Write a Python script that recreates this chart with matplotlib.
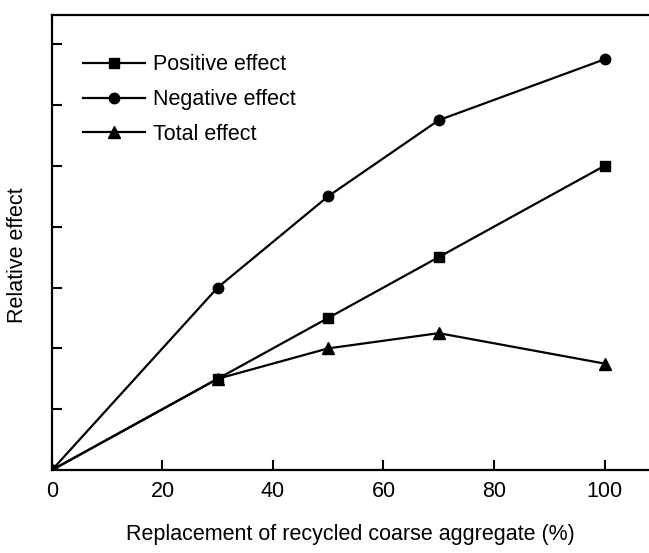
import matplotlib.pyplot as plt

plt.rcParams['font.family'] = ['Liberation Sans', 'DejaVu Sans']

# Replacement ratio of recycled coarse aggregate (%)
replacement = [0, 30, 50, 70, 100]

# Relative effect (arbitrary units)
positive_effect = [0, 1.5, 2.5, 3.5, 5.0]
negative_effect = [0, 3.0, 4.5, 5.75, 6.75]
total_effect = [0, 1.5, 2.0, 2.25, 1.75]

FS = 15.5

fig = plt.figure(figsize=(6.49, 5.53), dpi=100)
ax = fig.add_axes([0.080, 0.150, 0.920, 0.823])

style = dict(color='black', linewidth=1.6, markersize=7.5)
ax.plot(replacement, positive_effect, marker='s', label='Positive effect', **style)
ax.plot(replacement, negative_effect, marker='o', label='Negative effect', **style)
ax.plot(replacement, total_effect, marker='^', label='Total effect', markersize=8.5,
        color='black', linewidth=1.6)

ax.set_xlim(0, 108.05)
ax.set_ylim(0, 7.48)
ax.set_xticks([0, 20, 40, 60, 80, 100])
ax.set_yticks([1, 2, 3, 4, 5, 6, 7])
ax.set_yticklabels([])
ax.tick_params(axis='both', direction='in', length=7.5, width=1.5, labelsize=FS)
ax.tick_params(axis='x', pad=8)

for side in ['left', 'bottom', 'top']:
    ax.spines[side].set_linewidth(1.6)
ax.spines['right'].set_visible(False)

ax.set_xlabel('Replacement of recycled coarse aggregate (%)', fontsize=FS, labelpad=16)
ax.set_ylabel('Relative effect', fontsize=FS)
ax.yaxis.set_label_coords(-0.04, 0.473)

ax.legend(loc='upper left', bbox_to_anchor=(0.0375, 0.932), frameon=False,
          fontsize=FS, handlelength=2.9, handletextpad=0.37, labelspacing=0.63,
          borderaxespad=0)

fig.savefig('out.png', dpi=100)
